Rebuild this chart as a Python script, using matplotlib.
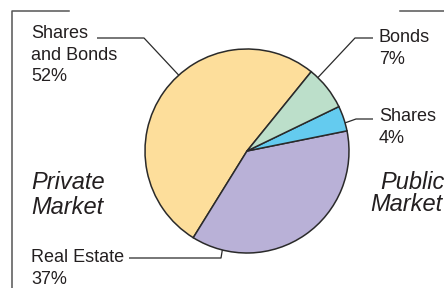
import numpy as np
import matplotlib
matplotlib.use("Agg")
import matplotlib.pyplot as plt

# --- Data ---
labels = ["Shares\nand Bonds", "Real Estate", "Shares", "Bonds"]
shares = [52, 37, 4, 7]
colors = ["#FDDE9B", "#B9B1D7", "#64CBEF", "#BCDFCA"]

# --- Layout (pixel coords, y measured from top) ---
W, H = 444, 288
cx, cy, r = 247, 151, 102
TXT = "#231F20"
LINE = "#2A2A2A"

fig = plt.figure(figsize=(W / 100, H / 100), dpi=100)
ax = fig.add_axes([0, 0, 1, 1])
plt.rcParams['font.family'] = ['Liberation Sans', 'DejaVu Sans']

wedges, _ = ax.pie(shares, colors=colors, startangle=51, counterclock=True,
                   center=(cx, H - cy), radius=r,
                   wedgeprops=dict(edgecolor=LINE, linewidth=1.1))
ax.set_xlim(0, W)
ax.set_ylim(0, H)
ax.set_aspect('equal')
ax.axis('off')


def y(py):
    return H - py


def edge(angle):
    a = np.deg2rad(angle)
    return cx + r * np.cos(a), y(cy) + r * np.sin(a)


# leader lines: (angle on rim, elbow point, end point)
leaders = [
    (132, (144, 38), (97, 38)),
    (46, (355, 38), (373, 38)),
    (16, (356, 119), (373, 119)),
    (256, (221, 258), (129, 258)),
]
for ang, elbow, end in leaders:
    ex, ey = edge(ang)
    ax.plot([ex, elbow[0], end[0]], [ey, y(elbow[1]), y(end[1])],
            color=LINE, lw=0.9, solid_capstyle='butt')

# labels
fs = 13
ls = 1.36
ax.text(31, y(25), f"{labels[0]}\n{shares[0]}%", fontsize=fs, color=TXT,
        va='top', ha='left', linespacing=ls)
ax.text(379, y(29), f"{labels[3]}\n{shares[3]}%", fontsize=fs, color=TXT,
        va='top', ha='left', linespacing=ls)
ax.text(379, y(108), f"{labels[2]}\n{shares[2]}%", fontsize=fs, color=TXT,
        va='top', ha='left', linespacing=ls)
ax.text(31, y(249), f"{labels[1]}\n{shares[1]}%", fontsize=fs, color=TXT,
        va='top', ha='left', linespacing=ls)

ax.text(31, y(171), "Private\nMarket", fontsize=17, style='italic', color=TXT,
        va='top', ha='left', linespacing=1.12)
ax.text(380, y(171), "Public", fontsize=17, style='italic', color=TXT,
        va='top', ha='left')
ax.text(370, y(193), "Market", fontsize=17, style='italic', color=TXT,
        va='top', ha='left')

# frame fragments
FR = "#555555"
ax.plot([12, 12, 69], [0, y(11), y(11)], color=FR, lw=1.1)
ax.plot([400, W], [y(11), y(11)], color=FR, lw=1.1)

fig.savefig("out.png", dpi=100)
